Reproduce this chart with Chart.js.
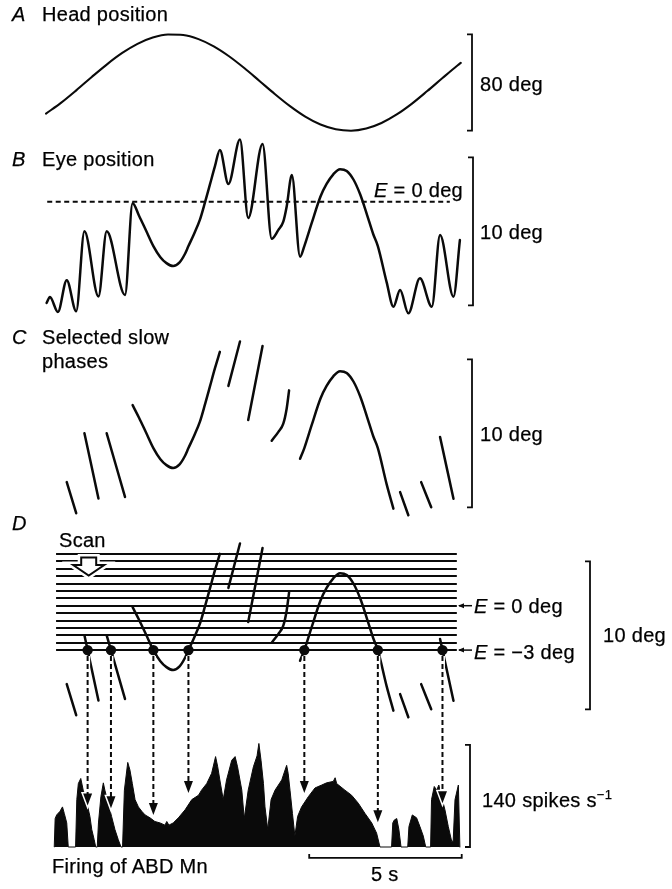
<!DOCTYPE html>
<html>
<head>
<meta charset="utf-8">
<script src="https://cdn.jsdelivr.net/npm/chart.js@4.4.1/dist/chart.umd.min.js"></script>
<style>
  body { margin: 0; background: #fff; }
  #wrap { position: relative; width: 672px; height: 889px; overflow: hidden; }
  #fig { position: absolute; left: 0; top: 0; }
  .t { position: absolute; font-family: "Liberation Sans", Arial, Helvetica, sans-serif; font-size: 20px;
       line-height: 1; color: #000; white-space: nowrap; letter-spacing: 0.3px;
       -webkit-text-stroke: 0.25px #000; }
  .i { font-style: italic; }
  sup { font-size: 13px; vertical-align: 0; position: relative; top: -8px; }
</style>
</head>
<body>
<div id="wrap">
  <canvas id="fig" width="672" height="889"></canvas>

  <div class="t i" style="left:12px;top:4px">A</div>
  <div class="t" style="left:42px;top:4px">Head position</div>
  <div class="t" style="left:480px;top:74px">80 deg</div>

  <div class="t i" style="left:12px;top:149px">B</div>
  <div class="t" style="left:42px;top:149px">Eye position</div>
  <div class="t" style="right:209px;top:180px"><i>E</i> = 0 deg</div>
  <div class="t" style="left:480px;top:222px">10 deg</div>

  <div class="t i" style="left:12px;top:327px">C</div>
  <div class="t" style="left:42px;top:327px">Selected slow</div>
  <div class="t" style="left:42px;top:351px">phases</div>
  <div class="t" style="left:480px;top:424px">10 deg</div>

  <div class="t i" style="left:12px;top:513px">D</div>
  <div class="t" style="left:59px;top:530px">Scan</div>
  <div class="t" style="left:474px;top:596px"><i>E</i> = 0 deg</div>
  <div class="t" style="left:474px;top:642px"><i>E</i> = −3 deg</div>
  <div class="t" style="left:603px;top:625px">10 deg</div>
  <div class="t" style="left:482px;top:790px">140 spikes s<sup>−1</sup></div>
  <div class="t" style="left:52px;top:856px">Firing of ABD Mn</div>
  <div class="t" style="left:371px;top:864px">5 s</div>
</div>

<script>
// head position (deg) against time (s)
const headTime = [0, 0.5, 1, 1.5, 2, 2.5, 3, 3.5, 4, 4.5, 5, 5.5, 6, 6.5, 7, 7.5, 8, 8.5, 9, 9.5,
                  10, 10.5, 11, 11.5, 12, 12.5, 13, 13.5, 13.6];
const headPos = [-25.8, -16.7, -6.3, 4.6, 15.1, 24.5, 32.1, 37.3, 39.8, 39.4, 36.0, 30.0, 21.8, 12.0, 1.3, -9.5,
                 -19.6, -28.3, -34.9, -38.8, -40.0, -38.2, -33.6, -26.5, -17.5, -7.1, 3.7, 14.3, 16.3];

// eye position (deg), slow and fast phases together
const eyeTime = [0.02, 0.13, 0.39, 0.68, 0.99, 1.26, 1.72, 1.99, 2.59, 2.84,
                 3.05, 3.28, 3.52, 3.75, 3.95, 4.17, 4.38, 4.55, 4.67, 4.85, 5.05, 5.22, 5.38, 5.54, 5.70,
                 5.98, 6.36, 6.63, 7.10, 7.40, 7.62, 7.78, 7.89, 8.06, 8.33,
                 8.47, 8.71, 9.00, 9.20, 9.42, 9.64, 9.86, 10.08, 10.30, 10.52, 10.73, 10.88, 11.17, 11.39,
                 11.61, 11.88, 12.26, 12.65, 12.92, 13.36, 13.57];
const eyePos = [-6.84, -6.44, -7.45, -5.3, -7.4, -2.0, -6.4, -2.0, -6.3, -0.1,
                -0.95, -1.95, -3.0, -3.75, -4.15, -4.35, -4.1, -3.55, -3.0, -2.2, -1.2, 0.0, 1.2, 2.4, 3.5,
                1.2, 4.2, -1.1, 3.9, -2.5, -1.9, -1.35, -0.34, 1.8, -3.72,
                -3.0, -1.45, 0.35, 1.2, 1.85, 2.2, 2.08, 1.5, 0.5, -0.85, -2.2, -3.0, -5.45, -7.09,
                -5.97, -7.54, -5.18, -7.09, -2.25, -6.42, -2.59];

// slow phases only; null closes a segment
const slowTime = [0.68, 0.99, 0.99,
                  1.26, 1.72, 1.72,
                  1.99, 2.59, 2.59,
                  2.84, 3.05, 3.28, 3.52, 3.75, 3.95, 4.17, 4.38, 4.55, 4.67, 4.85, 5.05, 5.22, 5.38, 5.54, 5.70, 5.70,
                  5.98, 6.36, 6.36,
                  6.63, 7.10, 7.10,
                  7.40, 7.62, 7.78, 7.89, 7.97, 7.97,
                  8.33, 8.47, 8.71, 9.00, 9.20, 9.42, 9.64, 9.86, 10.08, 10.30, 10.52, 10.73, 10.88, 11.17, 11.39, 11.39,
                  11.61, 11.88, 11.88,
                  12.30, 12.63, 12.63,
                  12.92, 13.36];
const slowPos = [-5.3, -7.4, null,
                 -2.0, -6.4, null,
                 -2.0, -6.3, null,
                 -0.1, -0.95, -1.95, -3.0, -3.75, -4.15, -4.35, -4.1, -3.55, -3.0, -2.2, -1.2, 0.0, 1.2, 2.4, 3.5, null,
                 1.2, 4.2, null,
                 -1.1, 3.9, null,
                 -2.5, -1.9, -1.35, -0.34, 0.9, null,
                 -3.72, -3.0, -1.45, 0.35, 1.2, 1.85, 2.2, 2.08, 1.5, 0.5, -0.85, -2.2, -3.0, -5.45, -7.09, null,
                 -5.97, -7.54, null,
                 -5.3, -7.0, null,
                 -2.25, -6.42];

// scan levels (deg) and the level picked for the crossings
const scanLevels = [3.5, 3.0, 2.5, 2.0, 1.5, 1.0, 0.5, 0.0, -0.5, -1.0, -1.5, -2.0, -2.5, -3.0];
const pickLevel = -3;

// firing rate of the abducens motoneuron (spikes/s)
const rateTime = [0.27, 0.30, 0.35, 0.46, 0.54, 0.60, 0.68, 0.73,
  0.97, 1.01, 1.06, 1.14, 1.22, 1.30, 1.37, 1.44, 1.50, 1.58, 1.63,
  1.68, 1.72, 1.80, 1.88, 1.93, 2.04, 2.15, 2.26, 2.37, 2.46,
  2.51, 2.57, 2.68, 2.75, 2.83, 2.92, 3.03, 3.14, 3.25, 3.41, 3.57, 3.74, 3.90, 3.96, 4.03, 4.17, 4.34,
  4.56, 4.78, 5.00, 5.10, 5.27, 5.43, 5.56, 5.63, 5.70, 5.81, 5.92, 6.09, 6.20, 6.28, 6.42, 6.50, 6.63,
  6.80, 6.92, 6.98, 7.05, 7.13, 7.18, 7.27, 7.38, 7.51, 7.73, 7.89, 7.94, 8.00, 8.08, 8.16, 8.25, 8.38,
  8.60, 8.82, 9.04, 9.20, 9.42, 9.48, 9.53, 9.80, 10.02, 10.24, 10.46, 10.68, 10.84, 10.95,
  11.33, 11.37, 11.42, 11.50, 11.57, 11.64,
  11.86, 11.90, 12.01, 12.15, 12.26, 12.37, 12.45,
  12.61, 12.64, 12.73, 12.81, 12.88, 12.97, 13.08, 13.19, 13.30, 13.35, 13.41, 13.52, 13.57];
const rateVal = [0, 39, 44, 49, 55, 46, 33, 0,
  0, 65, 87, 94, 78, 67, 55, 42, 24, 10, 0,
  0, 33, 69, 88, 78, 60, 42, 24, 10, 0,
  0, 78, 116, 106, 87, 65, 55, 49, 44, 40, 35, 33, 30, 35, 30, 33, 40,
  51, 65, 71, 78, 87, 101, 124, 110, 92, 65, 92, 119, 124, 110, 78, 39, 78,
  110, 125, 142, 119, 87, 55, 24, 65, 78, 92, 112, 101, 78, 46, 15, 42, 55,
  69, 81, 85, 88, 90, 95, 87, 78, 71, 60, 46, 33, 19, 0,
  0, 33, 37, 39, 24, 0,
  0, 28, 44, 40, 28, 15, 0,
  0, 65, 83, 78, 85, 69, 51, 28, 8, 8, 65, 85, 0];

// where each dashed arrow lands on the rate record (spikes/s)
const arrowTipRate = [57, 53, 44, 74, 74, 34, 60];

// calibration bars
const brackets = [
  { axis: 'yA', from: 40, to: -40, px: 472 },
  { axis: 'yB', from: 3, to: -7, px: 473 },
  { axis: 'yC', from: 3, to: -7, px: 472 },
  { axis: 'yD', from: 3, to: -7, px: 590 },
  { axis: 'yR', from: 140, to: 0, px: 470 }
];
const timeBar = { from: 8.63, to: 13.63, rate: -15 };

// layout: pixel of t = 0, pixels per second, and per panel the pixel of zero and pixels per unit
const W = 672, H = 889;
const X0 = 46, PX_PER_S = 30.5;
const panels = {
  yA: { zero: 82.5, perUnit: 1.205 },
  yB: { zero: 201.7, perUnit: 14.8 },
  yC: { zero: 403.7, perUnit: 14.8 },
  yD: { zero: 605.7, perUnit: 14.8 },
  yR: { zero: 847, perUnit: 0.729 }
};
const INK = '#0a0a0a';

const scales = {
  x: { type: 'linear', axis: 'x', display: false, bounds: 'data', min: -X0 / PX_PER_S, max: (W - X0) / PX_PER_S }
};
for (const [id, p] of Object.entries(panels)) {
  scales[id] = { type: 'linear', axis: 'y', display: false, bounds: 'data',
                 min: -(H - p.zero) / p.perUnit, max: p.zero / p.perUnit };
}

const pts = (ts, vs) => ts.map((t, i) => ({ x: t, y: vs[i] }));

// times where the slow phases pass through a level
function crossings(ts, vs, level) {
  const out = [];
  for (let i = 1; i < ts.length; i++) {
    const a = vs[i - 1], b = vs[i];
    if (a == null || b == null) continue;
    if ((a > level) !== (b > level)) {
      out.push(ts[i - 1] + (level - a) / (b - a) * (ts[i] - ts[i - 1]));
    }
  }
  return out;
}

function arrowHead(ctx, x, y, w, len, dir) {
  // dir 1 = pointing down, otherwise pointing left
  ctx.beginPath();
  if (dir === 1) {
    ctx.moveTo(x, y); ctx.lineTo(x - w, y - len); ctx.lineTo(x + w, y - len);
  } else {
    ctx.moveTo(x, y); ctx.lineTo(x + len, y - w); ctx.lineTo(x + len, y + w);
  }
  ctx.closePath();
}

const decor = {
  id: 'decor',
  beforeDatasetsDraw(chart) {
    const { ctx, scales: s } = chart;
    ctx.save();
    ctx.strokeStyle = INK;
    ctx.lineWidth = 2.2;
    const x1 = s.x.getPixelForValue(0.33), x2 = s.x.getPixelForValue(13.47);
    for (const lv of scanLevels) {
      const py = Math.round(s.yD.getPixelForValue(lv));
      ctx.beginPath(); ctx.moveTo(x1, py); ctx.lineTo(x2, py); ctx.stroke();
    }
    ctx.restore();
  },
  afterDatasetsDraw(chart) {
    const { ctx, scales: s } = chart;
    ctx.save();
    ctx.strokeStyle = INK;
    ctx.fillStyle = INK;

    // scan marker: hollow arrow sitting on the top lines
    const cx = s.x.getPixelForValue(1.4), top = s.yD.getPixelForValue(3.25);
    const shape = [[-7.5, 0], [7.5, 0], [7.5, 7.5], [15.5, 7.5], [0, 18], [-15.5, 7.5], [-7.5, 7.5]];
    ctx.beginPath();
    shape.forEach(([dx, dy], i) => i ? ctx.lineTo(cx + dx, top + dy) : ctx.moveTo(cx + dx, top + dy));
    ctx.closePath();
    ctx.lineJoin = 'miter';
    ctx.strokeStyle = '#fff'; ctx.lineWidth = 7; ctx.stroke();
    ctx.fillStyle = '#fff'; ctx.fill();
    ctx.strokeStyle = INK; ctx.lineWidth = 2; ctx.stroke();
    ctx.fillStyle = INK;

    // picked crossings: dots on the level, dashed arrows down to the rate record
    const level = s.yD.getPixelForValue(pickLevel);
    crossings(slowTime, slowPos, pickLevel).forEach((t, i) => {
      const px = s.x.getPixelForValue(t);
      const tip = s.yR.getPixelForValue(arrowTipRate[i]);
      const y0 = level + 6;
      ctx.setLineDash([]);
      ctx.strokeStyle = '#fff'; ctx.lineWidth = 5;
      ctx.beginPath(); ctx.moveTo(px, y0); ctx.lineTo(px, tip - 10); ctx.stroke();
      arrowHead(ctx, px, tip, 4.5, 12, 1);
      ctx.lineWidth = 3; ctx.stroke();
      ctx.strokeStyle = INK; ctx.lineWidth = 2;
      ctx.setLineDash([5, 3]);
      ctx.beginPath(); ctx.moveTo(px, y0); ctx.lineTo(px, tip - 10); ctx.stroke();
      ctx.setLineDash([]);
      arrowHead(ctx, px, tip, 4.5, 12, 1); ctx.fill();
      ctx.beginPath(); ctx.arc(px, level, 5.2, 0, Math.PI * 2); ctx.fill();
    });

    // pointers to the E = 0 and E = -3 lines
    ctx.lineWidth = 1.5;
    for (const lv of [0, pickLevel]) {
      const py = s.yD.getPixelForValue(lv);
      ctx.beginPath(); ctx.moveTo(459, py); ctx.lineTo(472, py); ctx.stroke();
      arrowHead(ctx, 458, py, 2.5, 6, 0); ctx.fill();
    }

    // calibration brackets
    ctx.lineWidth = 1.8;
    ctx.lineCap = 'butt';
    for (const b of brackets) {
      const ya = s[b.axis].getPixelForValue(b.from), yb = s[b.axis].getPixelForValue(b.to);
      ctx.beginPath();
      ctx.moveTo(b.px - 5, ya); ctx.lineTo(b.px, ya); ctx.lineTo(b.px, yb); ctx.lineTo(b.px - 5, yb);
      ctx.stroke();
    }

    // 5 s time bar
    const ty = s.yR.getPixelForValue(timeBar.rate);
    const ta = s.x.getPixelForValue(timeBar.from), tb = s.x.getPixelForValue(timeBar.to);
    ctx.beginPath();
    ctx.moveTo(ta, ty - 4); ctx.lineTo(ta, ty); ctx.lineTo(tb, ty); ctx.lineTo(tb, ty - 4);
    ctx.stroke();
    ctx.restore();
  }
};

const line = (data, yAxisID, width, extra) => Object.assign({
  data, yAxisID, xAxisID: 'x', borderColor: INK, borderWidth: width, pointRadius: 0,
  fill: false, spanGaps: false, cubicInterpolationMode: 'monotone',
  borderJoinStyle: 'round', borderCapStyle: 'round'
}, extra || {});

new Chart(document.getElementById('fig'), {
  type: 'line',
  data: {
    datasets: [
      line(pts(headTime, headPos), 'yA', 2.1),
      line(pts(eyeTime, eyePos), 'yB', 2.5),
      line([{ x: 0.04, y: 0 }, { x: 13.24, y: 0 }], 'yB', 2, { borderDash: [5, 3.5], borderCapStyle: 'butt' }),
      line(pts(slowTime, slowPos), 'yC', 2.5),
      line(pts(slowTime, slowPos), 'yD', 2.5),
      line(pts(rateTime, rateVal), 'yR', 1, { fill: 'origin', backgroundColor: INK, cubicInterpolationMode: 'default', tension: 0 })
    ]
  },
  options: {
    responsive: false,
    animation: false,
    events: [],
    layout: { padding: 0 },
    scales,
    plugins: { legend: { display: false }, tooltip: { enabled: false } }
  },
  plugins: [decor]
});
</script>
</body>
</html>
